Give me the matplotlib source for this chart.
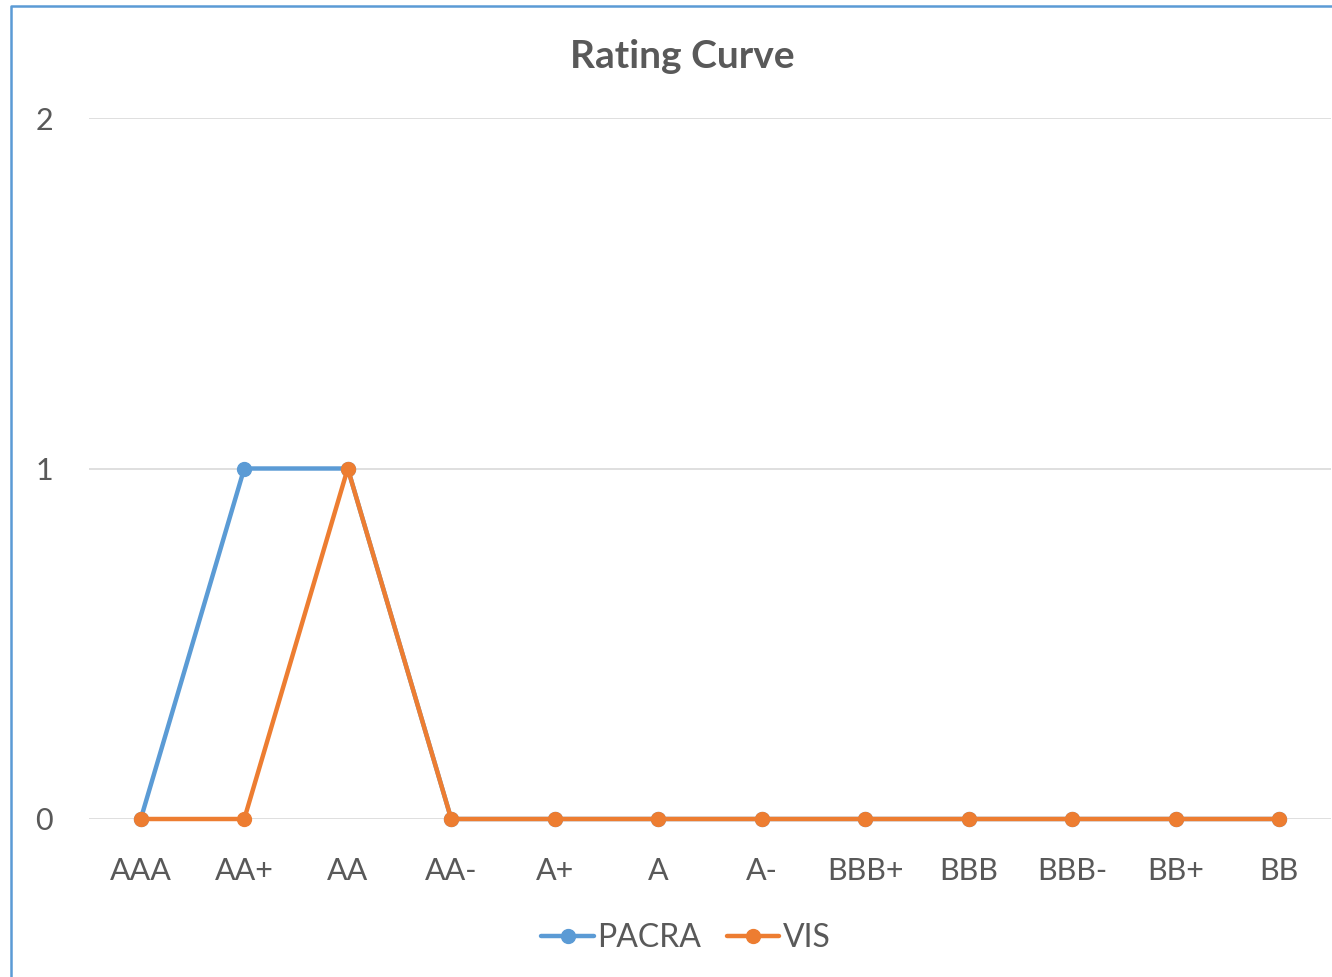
import matplotlib
matplotlib.use("Agg")
import matplotlib.pyplot as plt
from matplotlib.lines import Line2D

# data
ratings = ["AAA", "AA+", "AA", "AA-", "A+", "A", "A-", "BBB+", "BBB", "BBB-", "BB+", "BB"]
pacra = [0, 1, 1, 0, 0, 0, 0, 0, 0, 0, 0, 0]
vis = [0, 0, 1, 0, 0, 0, 0, 0, 0, 0, 0, 0]
yticks = [0, 1, 2]

W, H = 1332, 977
plt.rcParams['font.family'] = ['Lato', 'DejaVu Sans']
text_color = '#595959'

fig = plt.figure(figsize=(W / 100, H / 100), dpi=100)
ax = fig.add_axes([89 / W, 1 - 819 / H, (1331 - 89) / W, (819 - 118) / H])

x = list(range(len(ratings)))
ax.plot(x, pacra, color='#5B9BD5', lw=3.2, marker='o', ms=10, label='PACRA',
        solid_capstyle='round', zorder=3)
ax.plot(x, vis, color='#ED7D31', lw=3.2, marker='o', ms=10, label='VIS',
        solid_capstyle='round', zorder=4)

ax.set_xlim(-0.5, len(ratings) - 0.5)
ax.set_ylim(0, 2)
ax.set_xticks(x)
ax.set_xticklabels(ratings)
ax.set_yticks(yticks)
ax.tick_params(axis='both', length=0, labelsize=22, labelcolor=text_color)
ax.tick_params(axis='x', pad=27)
ax.tick_params(axis='y', pad=26)
ax.grid(axis='y', color='#D9D9D9', lw=1.2)
ax.set_axisbelow(True)
for s in ax.spines.values():
    s.set_visible(False)
for ln in ax.lines:
    ln.set_clip_on(False)

fig.text(682 / W, 1 - 56 / H, "Rating Curve", ha='center', va='center',
         fontsize=28, fontweight='bold', color=text_color)

leg = fig.legend(loc='center', bbox_to_anchor=(686 / W, 1 - 938 / H), ncol=2,
                 frameon=False, fontsize=23, labelcolor=text_color,
                 handlelength=1.65, handletextpad=0.1, columnspacing=0.8)

# chart border (left and top edges visible)
fig.add_artist(Line2D([11 / W, 11 / W, 1.0], [0.0, 1 - 6 / H, 1 - 6 / H],
                      transform=fig.transFigure, color='#5B9BD5', lw=1.8))

fig.savefig("out.png", dpi=100)
